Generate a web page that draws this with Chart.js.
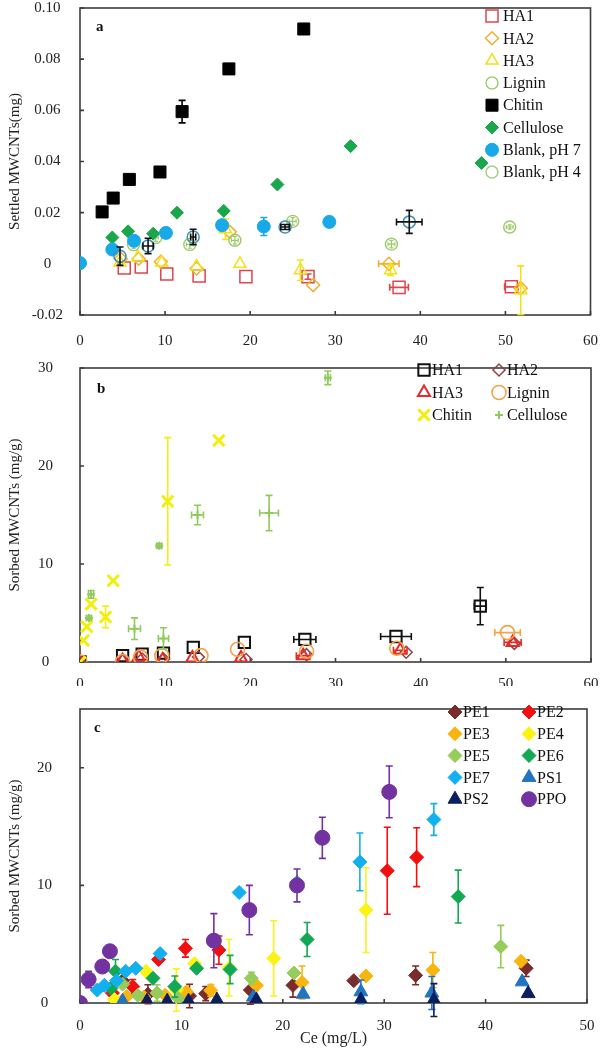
<!DOCTYPE html>
<html>
<head>
<meta charset="utf-8">
<script src="https://cdn.jsdelivr.net/npm/chart.js@4.4.0/dist/chart.umd.min.js"></script>
<style>
  html, body { margin: 0; padding: 0; background: #fff; }
  body { width: 607px; height: 1048px; position: relative; overflow: hidden; }
  canvas { position: absolute; left: 0; }
</style>
</head>
<body>
<canvas id="chartA" width="607" height="355" style="top:-10px"></canvas>
<canvas id="chartB" width="607" height="350" style="top:340px"></canvas>
<canvas id="chartC" width="607" height="368" style="top:680px"></canvas>
<script>
// every point is [Ce, value, xErr, yErr]

// panel a - settled MWCNTs (mg)
let aHA1 = [[5.2, -0.0016, 0, 0], [7.2, -0.0012, 0, 0], [10.2, -0.004, 0, 0], [14.0, -0.0048, 0, 0], [19.5, -0.005, 0, 0], [26.8, -0.005, 0, 0.001], [37.5, -0.0092, 1.1, 0], [50.7, -0.009, 0.8, 0]];
let aHA2 = [[4.8, 0.002, 0, 0], [6.9, 0.002, 0, 0], [9.5, 0.0008, 0, 0], [13.7, -0.0018, 0, 0], [17.6, 0.0125, 0, 0], [27.4, -0.0083, 0, 0], [36.3, 0.0, 1.2, 0], [51.8, -0.0095, 0, 0]];
let aHA3 = [[4.7, 0.0005, 0, 0], [6.8, 0.0025, 0, 0], [9.6, 0.0005, 0, 0], [13.7, -0.001, 0, 0], [17.1, 0.0135, 0, 0.004], [18.8, 0.0, 0, 0], [25.9, -0.0025, 0, 0.004], [36.5, -0.0025, 0, 0.002], [51.8, -0.0103, 0, 0.0095]];
let aLignin = [[6.3, 0.0075, 0.3, 0.0015], [8.9, 0.0103, 0.3, 0.0015], [12.9, 0.0076, 0.4, 0.0015], [18.2, 0.0092, 0.4, 0.0015], [25.0, 0.0166, 0.4, 0.0015], [36.6, 0.0077, 0.4, 0.0015], [50.5, 0.0144, 0.4, 0.0008]];
let aChitin = [[2.6, 0.0203, 0, 0], [3.9, 0.0257, 0, 0], [5.8, 0.033, 0, 0], [9.4, 0.0359, 0, 0], [12.0, 0.0595, 0, 0.0044], [17.5, 0.0762, 0, 0], [26.3, 0.0918, 0, 0]];
let aCellulose = [[3.8, 0.0103, 0, 0], [5.65, 0.0127, 0, 0], [8.6, 0.0118, 0, 0], [11.4, 0.020, 0, 0], [16.9, 0.0207, 0, 0], [23.2, 0.031, 0, 0], [31.8, 0.046, 0, 0], [47.2, 0.0394, 0, 0]];
let aBlank7 = [[0, 0.0003, 0, 0], [3.8, 0.0056, 0, 0], [6.35, 0.009, 0, 0], [10.1, 0.0121, 0, 0], [16.7, 0.0151, 0, 0], [21.6, 0.0146, 0, 0.0035], [29.3, 0.0164, 0, 0]];
let aBlank4 = [[4.7, 0.003, 0, 0.0036], [8.0, 0.007, 0.6, 0.003], [13.3, 0.0105, 0.3, 0.003], [24.1, 0.0144, 0.5, 0.001], [38.7, 0.0164, 1.5, 0.0045]];

// panel b - sorbed MWCNTs (mg/g)
let bHA1 = [[0, 0, 0, 0], [5.0, 0.65, 0, 0], [7.3, 0.8, 0, 0], [9.8, 0.9, 0, 0], [13.3, 1.5, 0, 0], [19.3, 2.0, 0, 0], [26.4, 2.3, 1.3, 0], [37.1, 2.6, 1.8, 0], [47.0, 5.7, 0.7, 1.9]];
let bHA2 = [[0, 0, 0, 0], [5.0, 0.15, 0, 0], [7.3, 0.3, 0, 0], [9.8, 0.3, 0, 0], [13.9, 0.5, 0, 0], [19.5, 0.25, 0, 0], [26.6, 0.75, 0, 0], [38.3, 1.0, 0, 0], [51.0, 1.9, 0, 0]];
let bHA3 = [[0, 0, 0, 0], [5.0, 0.15, 0, 0], [6.9, 0.5, 0, 0], [9.7, 0.2, 0, 0], [13.2, 0.4, 0, 0], [18.9, 0.4, 0, 0], [26.2, 0.65, 0.8, 0], [37.6, 1.2, 0.8, 0], [50.8, 2.0, 1.0, 0]];
let bLignin = [[0, 0, 0, 0], [5.0, 0.05, 0, 0], [7.1, 0.5, 0, 0], [9.6, 0.65, 0, 0], [14.2, 0.65, 0, 0], [18.5, 1.3, 0, 0], [26.6, 1.1, 0, 0], [37.2, 1.4, 0, 0], [50.2, 3.0, 1.5, 0]];
let bChitin = [[0, 0, 0, 0], [0.4, 2.2, 0, 0], [0.8, 3.6, 0, 0], [1.3, 5.9, 0, 0], [3.0, 4.6, 0, 1.1], [3.9, 8.3, 0, 0], [10.3, 16.4, 0, 6.5], [16.3, 22.6, 0, 0]];
let bCellulose = [[1.05, 4.5, 0.3, 0.2], [1.3, 6.9, 0.3, 0.4], [6.4, 3.4, 0.7, 1.1], [9.3, 11.85, 0.3, 0.2], [9.8, 2.4, 0.6, 1.1], [13.8, 15.0, 0.7, 1.0], [22.2, 15.2, 1.1, 1.8], [29.1, 29.0, 0.3, 0.7]];

// panel c - sorbed MWCNTs (mg/g)
let cPE1 = [[4.2, 1.9, 0, 0], [6.7, 0.75, 0, 0.8], [10.8, 0.6, 0, 1.0], [12.4, 0.8, 0, 0.6], [16.8, 1.1, 0, 1.2], [21.0, 1.5, 0, 1.0], [27.0, 1.9, 0, 0], [33.1, 2.35, 0, 0.8], [44.0, 2.95, 0, 0.7]];
let cPE2 = [[3.2, 0.85, 0, 0], [5.2, 1.4, 0, 0.6], [7.75, 3.7, 0, 0], [10.4, 4.65, 0, 0.75], [13.7, 4.5, 0, 1.2], [30.3, 11.25, 0, 3.7], [33.2, 12.4, 0, 2.5]];
let cPE3 = [[4.6, 0.55, 0, 0], [6.3, 0.5, 0, 0], [8.4, 0.65, 0, 0], [10.5, 0.95, 0, 0], [12.9, 1.07, 0, 0.5], [17.4, 1.5, 0, 0], [21.9, 1.75, 0, 1.4], [28.2, 2.3, 0, 0], [34.8, 2.8, 0, 1.5], [43.5, 3.55, 0, 0]];
let cPE4 = [[3.4, 0.3, 0, 0], [6.5, 2.7, 0, 0], [9.5, 1.1, 0, 1.8], [11.3, 3.35, 0, 0], [14.7, 3.0, 0, 2.4], [19.1, 3.8, 0, 3.2], [28.2, 7.9, 0, 3.6]];
let cPE5 = [[4.2, 1.6, 0, 0], [5.7, 0.65, 0, 0], [7.6, 0.85, 0, 0.7], [9.7, 0.4, 0, 0], [16.9, 2.1, 0, 0.5], [21.1, 2.55, 0, 0], [41.5, 4.8, 0, 1.8]];
let cPE6 = [[3.05, 1.25, 0, 0], [3.5, 2.7, 0, 1.0], [7.2, 2.1, 0, 0], [9.35, 1.4, 0, 0.9], [11.5, 2.95, 0, 0], [14.8, 2.85, 0, 1.2], [22.4, 5.4, 0, 1.45], [37.3, 9.05, 0, 2.25]];
let cPE7 = [[1.7, 1.1, 0, 0], [2.4, 1.5, 0, 0], [3.6, 1.9, 0, 0], [4.5, 2.7, 0, 0], [5.5, 2.95, 0, 0], [7.9, 4.2, 0, 0], [15.7, 9.4, 0, 0], [21.4, 10.25, 0, 0], [27.6, 12.0, 0, 2.45], [34.9, 15.6, 0, 1.35]];
let cPS1 = [[4.2, 0.15, 0, 0], [17.1, 0.5, 0, 0], [22.0, 0.75, 0, 0], [27.7, 0.95, 0, 1.0], [34.7, 0.85, 0, 1.4], [43.6, 1.8, 0, 0]];
let cPS2 = [[6.6, 0.15, 0, 0], [8.6, 0.15, 0, 0], [10.7, 0.15, 0, 0], [13.5, 0.25, 0, 0], [17.4, 0.25, 0, 0], [27.7, 0.25, 0, 0], [34.9, 0.25, 0, 1.4], [44.2, 0.8, 0, 0]];
let cPPO = [[0, 0, 0, 0], [0.85, 2.0, 0, 0.7], [2.2, 3.1, 0, 0], [2.95, 4.4, 0, 0], [13.2, 5.3, 0, 2.3], [16.7, 7.9, 0, 2.1], [21.4, 10.0, 0, 1.4], [23.9, 14.05, 0, 1.75], [30.5, 17.95, 0, 2.2]];

let xTicksAB = [0, 10, 20, 30, 40, 50, 60];
let xTicksC = [0, 10, 20, 30, 40, 50];

const SERIF = '"Liberation Serif", "Times New Roman", serif';
Chart.defaults.font.family = SERIF;

function pts(arr) {
  return arr.map(p => ({ x: p[0], y: p[1], xe: p[2], ye: p[3] }));
}

function series(label, arr, idx, shape, r, fill, border, bw, extra) {
  let ds = {
    label: label,
    data: pts(arr),
    order: -idx,
    pointStyle: shape,
    pointRadius: r,
    pointHoverRadius: r,
    pointBackgroundColor: fill,
    pointBorderColor: border,
    pointBorderWidth: bw,
    borderColor: border,
    backgroundColor: fill,
  };
  return Object.assign(ds, extra || {});
}

// error bars, drawn right after each dataset so the layering follows
const errorBars = {
  id: "errorBars",
  afterDatasetDraw(chart, args) {
    let ds = chart.data.datasets[args.index];
    let xs = chart.scales.x, ys = chart.scales.y;
    let ctx = chart.ctx;
    let cap = ds.errCap || 3.5;
    ctx.save();
    ctx.strokeStyle = ds.errColor || ds.pointBorderColor;
    ctx.lineWidth = ds.errWidth || 1.6;
    ds.data.forEach((p, i) => {
      let el = args.meta.data[i];
      if (!el) return;
      ctx.beginPath();
      if (p.ye) {
        let y1 = ys.getPixelForValue(p.y - p.ye), y2 = ys.getPixelForValue(p.y + p.ye);
        ctx.moveTo(el.x, y1); ctx.lineTo(el.x, y2);
        ctx.moveTo(el.x - cap, y1); ctx.lineTo(el.x + cap, y1);
        ctx.moveTo(el.x - cap, y2); ctx.lineTo(el.x + cap, y2);
      }
      if (p.xe) {
        let x1 = xs.getPixelForValue(p.x - p.xe), x2 = xs.getPixelForValue(p.x + p.xe);
        ctx.moveTo(x1, el.y); ctx.lineTo(x2, el.y);
        ctx.moveTo(x1, el.y - cap); ctx.lineTo(x1, el.y + cap);
        ctx.moveTo(x2, el.y - cap); ctx.lineTo(x2, el.y + cap);
      }
      ctx.stroke();
    });
    ctx.restore();
  },
};

// box round the plot, inward tick marks and the panel letter
const frame = {
  id: "frame",
  beforeDatasetsDraw(chart, args, opts) {
    let ctx = chart.ctx, a = chart.chartArea;
    let xs = chart.scales.x, ys = chart.scales.y;
    ctx.save();
    ctx.strokeStyle = "#3c3c3c";
    ctx.lineWidth = 1.6;
    ctx.strokeRect(a.left, a.top, a.right - a.left, a.bottom - a.top);
    ctx.beginPath();
    xs.ticks.forEach(t => {
      let px = xs.getPixelForValue(t.value);
      ctx.moveTo(px, a.bottom); ctx.lineTo(px, a.bottom - 4);
    });
    ys.ticks.forEach(t => {
      let py = ys.getPixelForValue(t.value);
      ctx.moveTo(a.left, py); ctx.lineTo(a.left + 4, py);
    });
    ctx.stroke();
    ctx.fillStyle = "#111";
    ctx.font = "bold 15px " + SERIF;
    ctx.textBaseline = "middle";
    ctx.fillText(opts.tag, a.left + opts.dx, a.top + opts.dy);
    ctx.restore();
  },
};

// legend laid out in a grid inside the plot
const boxLegend = {
  id: "boxLegend",
  afterDraw(chart, args, opts) {
    let ctx = chart.ctx;
    ctx.save();
    ctx.font = opts.size + "px " + SERIF;
    ctx.textBaseline = "middle";
    chart.data.datasets.forEach((ds, i) => {
      let col = i % opts.cols, row = Math.floor(i / opts.cols);
      let mx = opts.x + col * opts.colW, my = opts.y + row * opts.rowH;
      ctx.fillStyle = ds.pointBackgroundColor;
      ctx.strokeStyle = ds.legendColor || ds.pointBorderColor;
      ctx.lineWidth = ds.pointBorderWidth;
      Chart.helpers.drawPoint(ctx, {
        pointStyle: ds.pointStyle,
        radius: ds.legendRadius || ds.pointRadius,
        rotation: 0,
        borderWidth: ds.pointBorderWidth,
      }, mx, my);
      ctx.fillStyle = "#111";
      ctx.fillText(ds.label, mx + opts.gap, my + 1);
    });
    ctx.restore();
  },
};

function baseOptions(o) {
  return {
    responsive: false,
    animation: false,
    devicePixelRatio: 1,
    events: [],
    layout: { padding: { left: 0, right: o.padRight, top: o.top, bottom: 0 } },
    plugins: {
      legend: { display: false },
      tooltip: { enabled: false },
      frame: o.frame,
      boxLegend: o.legend,
    },
    scales: {
      x: {
        type: "linear",
        min: o.xMin,
        max: o.xMax,
        afterBuildTicks: s => { s.ticks = o.xTicks.map(v => ({ value: v })); },
        ticks: { font: { size: 15 }, color: "#222", padding: o.xPad },
        grid: { display: false },
        border: { display: false },
        title: o.xTitle
          ? { display: true, text: o.xTitle, font: { size: 16 }, color: "#222", padding: { top: 0, bottom: 0 } }
          : { display: false },
        afterFit: s => { s.height = o.xHeight; },
      },
      y: {
        type: "linear",
        min: o.yMin,
        max: o.yMax,
        ticks: {
          stepSize: o.yStep,
          includeBounds: false,
          font: { size: 15 },
          color: "#222",
          padding: o.yPad,
          crossAlign: "center",
          callback: o.yFmt,
        },
        grid: { display: false },
        border: { display: false },
        title: { display: true, text: o.yTitle, font: { size: 15 }, color: "#222", padding: { top: 6, bottom: 0 } },
        afterFit: s => { s.width = o.yWidth; },
      },
    },
  };
}

// panel a
new Chart(document.getElementById("chartA"), {
  type: "scatter",
  data: {
    datasets: [
      series("HA1", aHA1, 0, "rect", 8.5, "rgba(0,0,0,0)", "#e0444c", 1.5),
      series("HA2", aHA2, 1, "rectRot", 6.5, "rgba(0,0,0,0)", "#f0b030", 1.5),
      series("HA3", aHA3, 2, "triangle", 7, "rgba(0,0,0,0)", "#f5e01a", 1.5),
      series("Lignin", aLignin, 3, "circle", 6, "rgba(0,0,0,0)", "#9acb68", 1.4, { errWidth: 1.2, errCap: 2 }),
      series("Chitin", aChitin, 4, "rect", 8.5, "#000000", "#000000", 1, { errColor: "#000" }),
      series("Cellulose", aCellulose, 5, "rectRot", 6.5, "#1aa64a", "#1aa64a", 1),
      series("Blank, pH 7", aBlank7, 6, "circle", 6.5, "#17a9e8", "#17a9e8", 1),
      series("Blank, pH 4", aBlank4, 7, "circle", 6, "rgba(0,0,0,0)", "#3f8fb8", 1.5, { errColor: "#111", legendColor: "#a8d08d" }),
    ],
  },
  options: baseOptions({
    padRight: 16, top: 17, xMin: 0, xMax: 60, xTicks: xTicksAB, xPad: 9, xHeight: 30,
    yMin: -0.02, yMax: 0.1, yStep: 0.02, yPad: 9, yWidth: 80,
    yFmt: v => (Math.abs(v) < 1e-9 ? "0" : v.toFixed(2)),
    yTitle: "Settled MWCNTs(mg)",
    frame: { tag: "a", dx: 16, dy: 19 },
    legend: { x: 492, y: 26, cols: 1, colW: 0, rowH: 22.3, gap: 11, size: 16 },
  }),
  plugins: [frame, errorBars, boxLegend],
});

// panel b
new Chart(document.getElementById("chartB"), {
  type: "scatter",
  data: {
    datasets: [
      series("HA1", bHA1, 0, "rect", 8, "rgba(0,0,0,0)", "#111111", 2),
      series("HA2", bHA2, 1, "rectRot", 6, "rgba(0,0,0,0)", "#8e4444", 1.5),
      series("HA3", bHA3, 2, "triangle", 7, "rgba(0,0,0,0)", "#e62828", 2),
      series("Lignin", bLignin, 3, "circle", 7, "rgba(0,0,0,0)", "#f5a248", 1.6),
      series("Chitin", bChitin, 4, "crossRot", 8, "#f2ef10", "#f2ef10", 3),
      series("Cellulose", bCellulose, 5, "cross", 4, "#8fcb5a", "#8fcb5a", 2),
    ],
  },
  options: baseOptions({
    padRight: 16, top: 17, xMin: 0, xMax: 60, xTicks: xTicksAB, xPad: 5, xHeight: 24,
    yMin: 0, yMax: 30, yStep: 10, yPad: 19, yWidth: 80,
    yFmt: v => v,
    yTitle: "Sorbed MWCNTs (mg/g)",
    frame: { tag: "b", dx: 17, dy: 21 },
    legend: { x: 424, y: 30, cols: 2, colW: 75, rowH: 22.5, gap: 8, size: 16 },
  }),
  plugins: [frame, errorBars, boxLegend],
});

// panel c
new Chart(document.getElementById("chartC"), {
  type: "scatter",
  data: {
    datasets: [
      series("PE1", cPE1, 0, "rectRot", 7, "#7a2b2b", "#7a2b2b", 1),
      series("PE2", cPE2, 1, "rectRot", 7, "#f01010", "#f01010", 1),
      series("PE3", cPE3, 2, "rectRot", 7, "#f9b50f", "#f9b50f", 1),
      series("PE4", cPE4, 3, "rectRot", 7, "#fbf316", "#fbf316", 1),
      series("PE5", cPE5, 4, "rectRot", 7, "#96cc5a", "#96cc5a", 1),
      series("PE6", cPE6, 5, "rectRot", 7, "#13a853", "#13a853", 1),
      series("PE7", cPE7, 6, "rectRot", 7, "#12b0ee", "#12b0ee", 1),
      series("PS1", cPS1, 7, "triangle", 8, "#2274c0", "#2274c0", 1),
      series("PS2", cPS2, 8, "triangle", 8, "#0b1f5e", "#0b1f5e", 1),
      series("PPO", cPPO, 9, "circle", 7.5, "#7232a0", "#7232a0", 1),
    ],
  },
  options: baseOptions({
    padRight: 20, top: 13, xMin: 0, xMax: 50, xTicks: xTicksC, xPad: 6, xHeight: 45,
    xTitle: "Ce (mg/L)",
    yMin: 0, yMax: 25, yStep: 10, yPad: 20, yWidth: 80,
    yFmt: v => v,
    yTitle: "Sorbed MWCNTs (mg/g)",
    frame: { tag: "c", dx: 14, dy: 19 },
    legend: { x: 455, y: 32, cols: 2, colW: 74, rowH: 21.8, gap: 8, size: 16 },
  }),
  plugins: [frame, errorBars, boxLegend],
});
</script>
</body>
</html>
